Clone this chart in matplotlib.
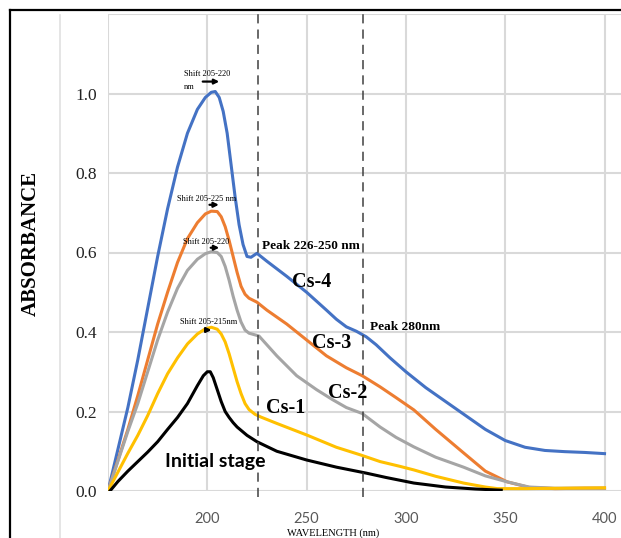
import matplotlib.pyplot as plt
from matplotlib.lines import Line2D

# Absorbance spectra
wl_cs4 = [150, 160, 165, 170, 175, 180, 185, 190, 195, 199, 202, 204, 206, 208, 210, 212, 214, 216,
          218, 220, 222, 225, 230, 240, 250, 260, 265, 270, 275, 280, 285, 292, 300, 310, 320, 330,
          340, 350, 360, 370, 380, 390, 400]
ab_cs4 = [0.0, 0.21, 0.33, 0.46, 0.59, 0.71, 0.815, 0.90, 0.96, 0.99, 1.003, 1.005, 0.99, 0.955,
          0.90, 0.82, 0.74, 0.67, 0.62, 0.59, 0.588, 0.598, 0.578, 0.54, 0.50, 0.455, 0.432, 0.413,
          0.402, 0.388, 0.368, 0.335, 0.30, 0.26, 0.225, 0.19, 0.155, 0.127, 0.11, 0.102, 0.099,
          0.097, 0.094]

wl_cs3 = [150, 160, 165, 170, 175, 180, 185, 190, 195, 199, 202, 205, 207, 209, 211, 213, 215, 217,
          219, 221, 225, 230, 240, 250, 260, 270, 278, 287, 295, 304, 315, 329, 340, 351, 362, 375,
          390, 400]
ab_cs3 = [0.0, 0.155, 0.24, 0.33, 0.42, 0.50, 0.575, 0.635, 0.675, 0.697, 0.704, 0.703, 0.69,
          0.665, 0.63, 0.59, 0.55, 0.515, 0.495, 0.485, 0.475, 0.455, 0.42, 0.38, 0.34, 0.31, 0.29,
          0.262, 0.235, 0.204, 0.155, 0.096, 0.05, 0.023, 0.009, 0.006, 0.007, 0.007]

wl_cs2 = [150, 160, 165, 170, 175, 180, 185, 190, 195, 199, 202, 205, 207, 209, 211, 213, 215, 217,
          219, 221, 226, 235, 245, 255, 263, 270, 278, 287, 295, 304, 315, 329, 340, 351, 362, 375,
          390, 400]
ab_cs2 = [0.0, 0.15, 0.22, 0.30, 0.38, 0.45, 0.51, 0.555, 0.583, 0.597, 0.602, 0.60, 0.59, 0.565,
          0.53, 0.49, 0.455, 0.425, 0.405, 0.397, 0.39, 0.34, 0.29, 0.255, 0.23, 0.21, 0.195,
          0.161, 0.135, 0.111, 0.085, 0.06, 0.038, 0.023, 0.01, 0.007, 0.007, 0.007]

wl_cs1 = [150, 160, 165, 170, 175, 180, 185, 190, 195, 199, 202, 205, 207, 209, 211, 213, 215, 217,
          219, 221, 224, 227, 235, 250, 265, 277, 287, 297, 304, 315, 329, 340, 346, 360, 380, 400]
ab_cs1 = [0.0, 0.095, 0.14, 0.19, 0.245, 0.295, 0.335, 0.37, 0.395, 0.408, 0.412, 0.407, 0.395,
          0.375, 0.345, 0.31, 0.275, 0.245, 0.22, 0.205, 0.193, 0.186, 0.17, 0.141, 0.11, 0.091,
          0.074, 0.062, 0.053, 0.037, 0.02, 0.01, 0.006, 0.006, 0.007, 0.008]

wl_init = [151, 155, 160, 165, 170, 175, 180, 185, 190, 195, 198, 200, 201.5, 203, 205, 207, 209,
           211, 213, 215, 220, 225, 235, 250, 265, 280, 290, 304, 320, 335, 348]
ab_init = [0.0, 0.024, 0.05, 0.074, 0.098, 0.124, 0.155, 0.185, 0.22, 0.265, 0.29, 0.30, 0.30,
           0.285, 0.255, 0.225, 0.20, 0.185, 0.172, 0.161, 0.14, 0.124, 0.10, 0.078, 0.06, 0.045,
           0.034, 0.02, 0.01, 0.005, 0.002]

x_ticks = [150, 200, 250, 300, 350, 400]
x_labels = ['', '200', '250', '300', '350', '400']
y_ticks = [0.0, 0.2, 0.4, 0.6, 0.8, 1.0, 1.2]
y_labels = ['0.0', '0.2', '0.4', '0.6', '0.8', '1.0', '']

fig = plt.figure(figsize=(6.21, 5.38), dpi=100)
ax = fig.add_axes([108 / 621, 47 / 538, 513 / 621, 477 / 538])

lw = 2.2
ax.plot(wl_cs4, ab_cs4, color='#4472C4', lw=lw)
ax.plot(wl_cs3, ab_cs3, color='#ED7D31', lw=lw)
ax.plot(wl_cs2, ab_cs2, color='#A5A5A5', lw=lw)
ax.plot(wl_cs1, ab_cs1, color='#FFC000', lw=lw)
ax.plot(wl_init, ab_init, color='black', lw=lw)

ax.set_xlim(150, 408.3)
ax.set_ylim(0, 1.2)
ax.set_xticks(x_ticks)
ax.set_xticklabels(x_labels, family='Lato', fontsize=10.5, color='#595959')
ax.set_yticks(y_ticks)
ax.set_yticklabels(y_labels, family='Liberation Serif', fontsize=12.5, color='#222222')
ax.tick_params(axis='x', length=0, pad=15)
ax.tick_params(axis='y', length=0, pad=8)
ax.grid(True, color='#d9d9d9', lw=1.5)
ax.set_axisbelow(True)
for s in ax.spines.values():
    s.set_visible(False)

# dashed markers for the two peaks
for xv in [225.5, 278.4]:
    ax.plot([xv, xv], [-0.015, 1.2], color='#404040', lw=1.1, ls=(0, (6, 4)), clip_on=False)

serif = 'Liberation Serif'
ax.text(227.5, 0.617, 'Peak 226-250 nm', family=serif, fontweight='bold', fontsize=9.5, va='center')
ax.text(281.9, 0.413, 'Peak 280nm', family=serif, fontweight='bold', fontsize=9.5, va='center')
ax.text(242.6, 0.526, 'Cs-4', family=serif, fontweight='bold', fontsize=14.5, va='center')
ax.text(252.7, 0.373, 'Cs-3', family=serif, fontweight='bold', fontsize=14.5, va='center')
ax.text(260.8, 0.247, 'Cs-2', family=serif, fontweight='bold', fontsize=14.5, va='center')
ax.text(229.5, 0.209, 'Cs-1', family=serif, fontweight='bold', fontsize=14.5, va='center')
ax.text(178.7, 0.073, 'Initial stage', family='Lato', fontweight='bold', fontsize=14, va='center')

# shift notes with small arrows
ax.text(188.3, 1.048, 'Shift 205-220', family=serif, fontsize=6, va='center')
ax.text(188.3, 1.016, 'nm', family=serif, fontsize=6, va='center')
ax.text(184.5, 0.735, 'Shift 205-225 nm', family=serif, fontsize=6, va='center')
ax.text(187.8, 0.627, 'Shift 205-220', family=serif, fontsize=6, va='center')
ax.text(186.3, 0.425, 'Shift 205-215nm', family=serif, fontsize=6, va='center')
arrows = [(196.3, 207.4, 1.03), (199.7, 207.2, 0.72), (200.3, 207.4, 0.612), (197.5, 203.5, 0.405)]
for x0, x1, yv in arrows:
    ax.annotate('', xy=(x1, yv), xytext=(x0, yv),
                arrowprops=dict(arrowstyle='-|>', color='black', lw=1.6, mutation_scale=7))

fig.text(333 / 621, 1 - 533 / 538, 'WAVELENGTH (nm)', family=serif, fontsize=7.5,
         ha='center', va='center')
fig.text(31 / 621, 1 - 243 / 538, 'ABSORBANCE', family=serif, fontweight='bold', fontsize=15,
         rotation=90, ha='center', va='center')

# outer frame and the faint guide line of the original figure
fig.add_artist(Line2D([10 / 621, 10 / 621], [0, 1 - 10 / 538], color='black', lw=1.6))
fig.add_artist(Line2D([10 / 621, 1], [1 - 10 / 538, 1 - 10 / 538], color='black', lw=1.6))
fig.add_artist(Line2D([60 / 621, 60 / 621], [0, 1 - 15 / 538], color='#e0e0e0', lw=1.2))

fig.savefig('out.png', dpi=100)
